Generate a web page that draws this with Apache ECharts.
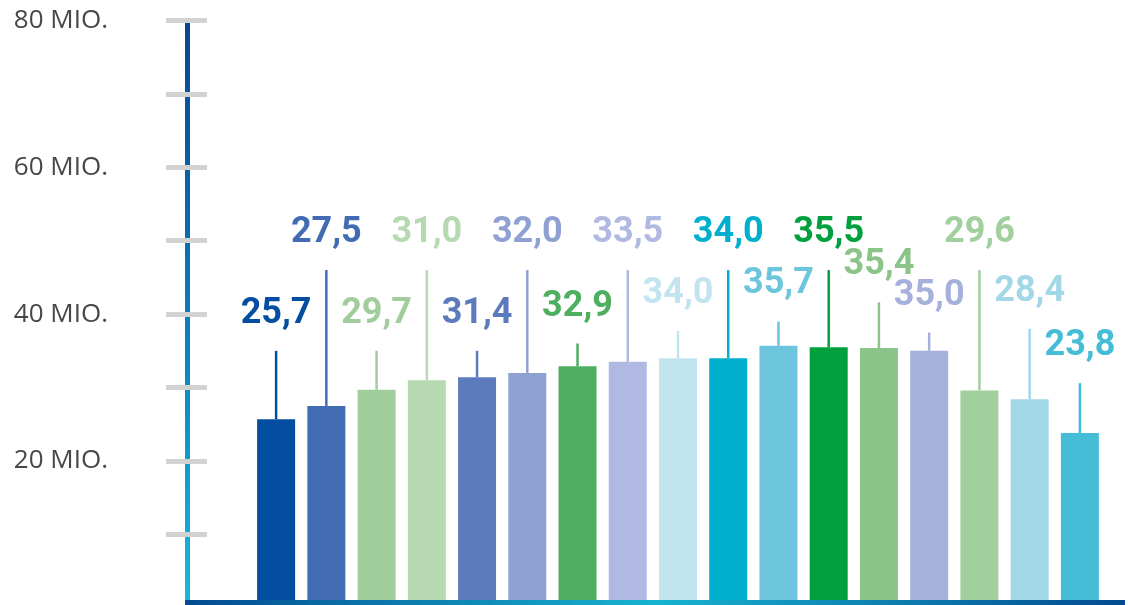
<!DOCTYPE html>
<html>
<head>
<meta charset="utf-8">
<script src="https://cdn.jsdelivr.net/npm/echarts@6/dist/echarts.min.js"></script>
<style>
html,body{margin:0;padding:0;background:#fff;}
#chart{width:1128px;height:605px;}
</style>
</head>
<body>
<div id="chart"></div>
<script>
// ---- data ----
const categories = ['1','2','3','4','5','6','7','8','9','10','11','12','13','14','15','16','17'];
const values = [25.7, 27.5, 29.7, 31.0, 31.4, 32.0, 32.9, 33.5, 34.0, 34.0, 35.7, 35.5, 35.4, 35.0, 29.6, 28.4, 23.8];
const upperValues = [35, 46, 35, 46, 35, 46, 36, 46, 37.7, 46, 39, 46, 41.6, 37.5, 46, 38, 30.6];
const yTickValues = [20, 40, 60, 80];
const yUnit = ' MIO.';

// ---- styles ----
const colors = ['#034ea0','#416cb4','#a1cd9c','#b7d9b2','#5c7bbd','#8fa0d2','#4faf60','#b0b9e1','#c2e4ef',
                '#00aecd','#6cc5dc','#00a03e','#8bc488','#a5b1db','#a2cf9e','#a2d7e7','#45bdd7'];
const fmt = v => v.toFixed(1).replace('.', ',');

const chart = echarts.init(document.getElementById('chart'), null, {renderer: 'canvas'});

const yBase = {
  type: 'value', min: 0, max: 80, interval: 10, position: 'left', offset: 64,
  splitLine: {show: false}
};

const option = {
  animation: false,
  grid: {left: 251, right: 23, top: 20.5, bottom: -2.8, containLabel: false, outerBoundsMode: 'none'},
  xAxis: {
    type: 'category', data: categories,
    axisLine: {show: false}, axisTick: {show: false}, axisLabel: {show: false}
  },
  yAxis: [
    Object.assign({}, yBase, {
      axisLine: {show: true, lineStyle: {width: 5, color: {
        type: 'linear', global: true, x: 0, y: 20, x2: 0, y2: 605,
        colorStops: [{offset: 0, color: '#0a458f'}, {offset: 0.5, color: '#0a7cba'}, {offset: 1, color: '#1ab8d8'}]
      }}},
      axisTick: {show: true, inside: false, length: 21, lineStyle: {color: '#d2d2d2', width: 5}},
      axisLabel: {
        show: true, margin: 79, color: '#474747', fontFamily: 'Open Sans', fontSize: 26,
        formatter: v => yTickValues.indexOf(v) >= 0 ? v + yUnit : ''
      }
    }),
    Object.assign({}, yBase, {
      axisLine: {show: false},
      axisTick: {show: true, inside: true, length: 20, lineStyle: {color: '#d2d2d2', width: 5}},
      axisLabel: {show: false}
    })
  ],
  series: [
    {
      type: 'custom',
      z: 1,
      data: values.map((v, i) => [i, upperValues[i], v]),
      encode: {x: 0, y: 1},
      renderItem: function (params, api) {
        const i = api.value(0);
        const hi = api.value(1);
        const v = api.value(2);
        const pTop = api.coord([i, hi]);
        const pBot = api.coord([i, v]);
        const c = colors[i];
        return {
          type: 'group',
          children: [
            {type: 'line', shape: {x1: pTop[0], y1: pTop[1], x2: pBot[0], y2: pBot[1]},
             style: {stroke: c, lineWidth: 2.5}},
            {type: 'text', x: pTop[0], y: pTop[1] - 37,
             style: {text: fmt(v), fill: c, font: 'bold 36px Roboto', align: 'center', verticalAlign: 'middle'}}
          ]
        };
      }
    },
    {
      type: 'bar',
      z: 2,
      barWidth: 38,
      data: values.map((v, i) => ({value: v, itemStyle: {color: colors[i]}}))
    }
  ],
  graphic: [
    {
      type: 'rect', z: 100,
      shape: {x: 185, y: 600, width: 940, height: 5},
      style: {fill: new echarts.graphic.LinearGradient(0, 0, 1, 0, [
        {offset: 0, color: '#034a8f'}, {offset: 0.5, color: '#17b3d1'}, {offset: 1, color: '#034a8f'}
      ])}
    }
  ]
};
chart.setOption(option);
</script>
</body>
</html>
